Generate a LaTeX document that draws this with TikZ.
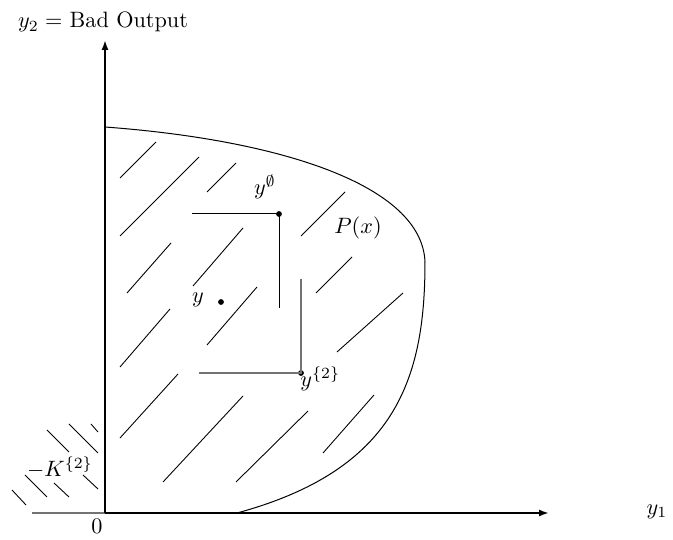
\documentclass[tikz,border=0pt]{standalone}
\usepackage{amssymb}
\usetikzlibrary{arrows.meta}
\begin{document}
\begin{tikzpicture}[x=0.45pt,y=-0.45pt,
  axis/.style={line width=0.9pt},
  axisarrow/.style={axis,-{Latex[length=4.5pt,width=3.2pt]}},
  boundary/.style={line width=0.45pt},
  hatch/.style={line width=0.4pt},
  guide/.style={line width=0.45pt},
  greyguide/.style={line width=0.6pt,draw=black!55},
  pt/.style={circle,fill=black,inner sep=0pt,minimum size=2.6pt},
  lbl/.style={inner sep=0pt}]
\useasboundingbox (0,0) rectangle (673,540);
% axes
\coordinate (O) at (105,513);
\coordinate (ytip) at (105,40);
\coordinate (xtip) at (549,513);
\coordinate (xleft) at (32,513);
\draw[axis,draw=black!55] (xleft) -- (O);
\draw[axisarrow] (O) -- (ytip);
\draw[axisarrow] (O) -- (xtip);
% boundary of P(x)
\coordinate (c0) at (105,127);
\coordinate (c1) at (425,262);
\coordinate (c3) at (237,513);
\draw[boundary] (c0) .. controls (280,140) and (422,185) .. (c1)
  .. controls (425,380) and (395,470) .. (c3);
% hatching inside P(x)
\foreach \a/\b/\c/\d in {120/178/156/142, 120/236/199/157, 207/192/236/163,
  301/236/345/192, 127/293/171/243, 193/286/243/228, 316/293/352/257,
  207/345/257/287, 120/367/170/309, 337/352/403/293, 120/438/178/374,
  163/482/243/396, 236/482/308/411, 323/453/374/395}
  \draw[hatch] (\a,\b) -- (\c,\d);
% hatching of -K
\foreach \a/\b/\c/\d in {47/430/69/452, 69/424/98/453, 91/424/98/432,
  25/475/47/497, 54/483/69/497, 83/475/98/489, 12/490/26/505}
  \draw[hatch] (\a,\b) -- (\c,\d);
% points
\node[pt] (yempty) at (279,214) {};
\node[pt] (ytwo) at (301,373) {};
\node[pt] (ydot) at (221,302) {};
\coordinate (e1) at (192,214);
\coordinate (e2) at (279,308);
\coordinate (t1) at (199,373);
\coordinate (t2) at (301,279);
\draw[guide] (e1) -- (yempty.center) -- (e2);
\draw[greyguide] (t1) -- (ytwo.center) -- (t2);
% labels
\node[lbl] (ly2) at (103,22) {$y_2 =$ Bad Output};
\node[lbl] (ly1) at (657,512) {$y_1$};
\node[lbl] (lzero) at (97,526) {$0$};
\node[lbl] (lK) at (60,468) {$-K^{\{2\}}$};
\node[lbl] (lP) at (358,228) {$P(x)$};
\node[lbl] (lempty) at (265,187) {$y^{\emptyset}$};
\node[lbl] (ly) at (198,300) {$y$};
\node[lbl,anchor=north west] (ltwo) at (300,366) {$y^{\{2\}}$};
\end{tikzpicture}
\end{document}
